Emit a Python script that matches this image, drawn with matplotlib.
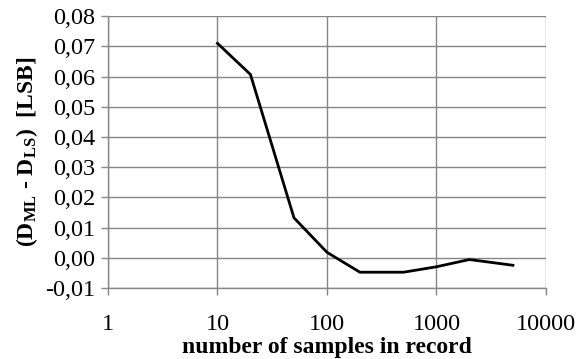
import numpy as np
import matplotlib.pyplot as plt

# samples per record and the ML vs LS estimate difference
samples = [10, 20, 50, 100, 200, 500, 1000, 2000, 5000]
diff_lsb = [0.071, 0.0607, 0.0132, 0.0018, -0.0048, -0.0048, -0.003, -0.0006, -0.0025]

yticks = np.arange(-0.01, 0.0801, 0.01)
ytick_labels = ['%.2f' % v for v in yticks]
ytick_labels = [s.replace('.', ',').replace('-0,00', '0,00') for s in ytick_labels]
xticks = [1, 10, 100, 1000, 10000]

plt.rcParams['font.family'] = 'Liberation Serif'
plt.rcParams['mathtext.fontset'] = 'custom'
plt.rcParams['mathtext.rm'] = 'Liberation Serif'
plt.rcParams['mathtext.bf'] = 'Liberation Serif:bold'
plt.rcParams['axes.unicode_minus'] = False

fig = plt.figure(figsize=(5.87, 3.59), dpi=100)
ax = fig.add_axes([0.184, 0.198, 0.746, 0.757])

grid_col = '#868686'
ax.plot(samples, diff_lsb, color='black', lw=2.0, solid_joinstyle='miter', zorder=3)

ax.set_xscale('log')
ax.set_xlim(1, 10000)
ax.set_ylim(-0.01, 0.08)
ax.set_xticks(xticks)
ax.set_xticklabels([str(t) for t in xticks])
ax.minorticks_off()
ax.set_yticks(yticks)
ax.set_yticklabels(ytick_labels)

ax.grid(True, color=grid_col, lw=1.0)
ax.set_axisbelow(True)
for side in ['top', 'right']:
    ax.spines[side].set_visible(False)
for side in ['left', 'bottom']:
    ax.spines[side].set_color(grid_col)
    ax.spines[side].set_linewidth(1.0)
ax.tick_params(axis='both', colors=grid_col, labelcolor='black', labelsize=17.5,
               length=5, width=1.0)
ax.tick_params(axis='x', pad=14)
ax.tick_params(axis='y', pad=4)

ax.set_xlabel('number of samples in record', fontsize=17, fontweight='bold', labelpad=1)
ax.set_ylabel(r'($\mathbf{D_{ML}}$ - $\mathbf{D_{LS}}$)  [LSB]', fontsize=17,
              fontweight='bold', labelpad=4)

fig.savefig('out.png', dpi=100)
